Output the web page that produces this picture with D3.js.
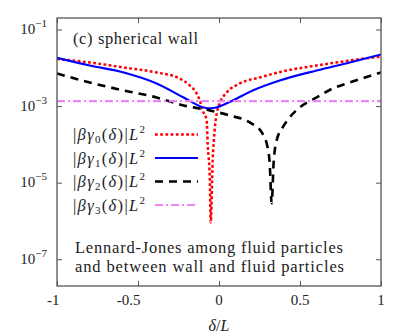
<!DOCTYPE html>
<html><head><meta charset="utf-8">
<script src="https://cdn.jsdelivr.net/npm/d3@7"></script>
<style>
body{margin:0;background:#fff}
svg{display:block}
</style>
</head><body><svg id="c" width="407" height="336"></svg>
<script>
// ---- data ----
const xTicks = [-1, -0.5, 0, 0.5, 1];
const xTickLabels = ["-1", "-0.5", "0", "0.5", "1"];
const yTicks = [1e-1, 1e-3, 1e-5, 1e-7];
const yTickExps = ["−1", "−3", "−5", "−7"];

const delta0 = [-1.0, -0.798, -0.588, -0.385, -0.243, -0.181, -0.138, -0.119, -0.101, -0.076, -0.070, -0.057, -0.051, -0.039, -0.027, -0.014, 0.004, 0.048, 0.128, 0.251, 0.418, 0.603, 0.807, 1.0];
const gamma0 = [1.70e-2, 1.38e-2, 1.02e-2, 7.55e-3, 5.27e-3, 3.46e-3, 2.14e-3, 1.41e-3, 7.7e-4, 4.2e-4, 1.06e-4, 1.38e-5, 9.2e-7, 3.8e-5, 2.32e-4, 6.4e-4, 1.17e-3, 2.27e-3, 3.90e-3, 5.6e-3, 8.5e-3, 1.15e-2, 1.55e-2, 1.98e-2];

const delta1 = [-1.0, -0.798, -0.588, -0.385, -0.218, -0.094, -0.057, -0.033, 0.085, 0.208, 0.375, 0.603, 0.807, 1.0];
const gamma1 = [1.83e-2, 1.15e-2, 7.55e-3, 3.90e-3, 1.68e-3, 9.2e-4, 8.7e-4, 8.9e-4, 1.41e-3, 2.56e-3, 4.67e-3, 8.5e-3, 1.38e-2, 2.23e-2];

const delta2 = [-1.0, -0.798, -0.588, -0.385, -0.218, -0.057, 0.066, 0.190, 0.264, 0.301, 0.313, 0.325, 0.338, 0.356, 0.393, 0.436, 0.498, 0.603, 0.702, 0.807, 1.0];
const gamma2 = [7.1e-3, 4.14e-3, 2.56e-3, 1.68e-3, 1.04e-3, 7.7e-4, 5.7e-4, 3.75e-4, 2.06e-4, 7.9e-5, 3.2e-5, 2.9e-6, 3.8e-5, 1.27e-4, 2.77e-4, 5.06e-4, 9.2e-4, 1.68e-3, 2.89e-3, 4.14e-3, 7.55e-3];

const delta3 = [-1.0, 1.0];
const gamma3 = [1.35e-3, 1.35e-3];

const seriesIdx = ["0", "1", "2", "3"];
const seriesColors = ["#ff0000", "#0000ff", "#000000", "#ee82ee"];
const seriesDash = ["2.8,2.4", null, "8,6", "8,3,2,3"];
const seriesWidth = [2.5, 2.2, 2.6, 2.2];

const title = "(c) spherical wall";
const note = ["Lennard-Jones among fluid particles", "and between wall and fluid particles"];

// ---- pick an installed serif face ----
function pickFont() {
  const c = document.createElement("canvas").getContext("2d");
  const s = "Lennard-Jones among fluid particles 0123";
  const cands = ["Liberation Serif", "DejaVu Serif", "Noto Serif", "Tinos", "Times New Roman", "Times", "FreeSerif", "Nimbus Roman", "C059", "Georgia"];
  for (const base of ["monospace", "sans-serif"]) {
    for (const f of cands) {
      c.font = `20px ${base}`; const w0 = c.measureText(s).width;
      c.font = `20px "${f}", ${base}`; const w1 = c.measureText(s).width;
      if (Math.abs(w1 - w0) > 0.5) return `"${f}", serif`;
    }
  }
  return "serif";
}
const FONT = pickFont();

// ---- chart ----
const svg = d3.select("#c");
const L = 57, R = 381, T = 18, B = 286;
const x = d3.scaleLinear().domain([-1, 1]).range([L, R]);
const y = d3.scaleLog().domain([2e-8, 0.2]).range([B, T]);
const axisCol = "#555";
const txt = (sel) => sel.append("text").style("font-family", FONT).attr("fill", "#222");

svg.append("defs").append("clipPath").attr("id", "clip")
  .append("rect").attr("x", L).attr("y", T).attr("width", R - L).attr("height", B - T);

const lines = [[delta0, gamma0], [delta1, gamma1], [delta2, gamma2], [delta3, gamma3]];
const gen = d3.line().x(d => x(d[0])).y(d => y(d[1])).curve(d3.curveMonotoneX);
const plot = svg.append("g").attr("clip-path", "url(#clip)");
lines.forEach((s, i) => {
  const pts = s[0].map((d, j) => [d, s[1][j]]);
  plot.append("path").attr("d", gen(pts)).attr("fill", "none")
    .attr("stroke", seriesColors[i]).attr("stroke-width", seriesWidth[i])
    .attr("stroke-dasharray", seriesDash[i]);
});

// axes (ticks inward on all four sides)
const tk = 5;
const styleAx = g => { g.select(".domain").remove(); g.selectAll("line").attr("stroke", axisCol); };
svg.append("g").attr("transform", `translate(0,${B})`)
  .call(d3.axisBottom(x).tickValues(xTicks).tickSize(-tk).tickFormat("")).call(styleAx);
svg.append("g").attr("transform", `translate(0,${T})`)
  .call(d3.axisTop(x).tickValues(xTicks).tickSize(-tk).tickFormat("")).call(styleAx);
svg.append("g").attr("transform", `translate(${L},0)`)
  .call(d3.axisLeft(y).tickValues(yTicks).tickSize(-tk).tickFormat("")).call(styleAx);
svg.append("g").attr("transform", `translate(${R},0)`)
  .call(d3.axisRight(y).tickValues(yTicks).tickSize(-tk).tickFormat("")).call(styleAx);
svg.append("rect").attr("x", L).attr("y", T).attr("width", R - L).attr("height", B - T)
  .attr("fill", "none").attr("stroke", axisCol).attr("stroke-width", 1.3);

// x tick labels
xTicks.forEach((v, i) => {
  const neg = xTickLabels[i].startsWith("-");
  txt(svg).attr("x", x(v) + (neg ? 2.5 : 0)).attr("y", 305)
    .attr("text-anchor", neg ? "end" : "middle").attr("font-size", 15).text(xTickLabels[i]);
});
// y tick labels
yTicks.forEach((v, i) => {
  const t = txt(svg).attr("x", 47).attr("y", y(v) + 4.5).attr("text-anchor", "end").attr("font-size", 15);
  t.append("tspan").text("10");
  t.append("tspan").attr("dy", -7).attr("font-size", 11).text(yTickExps[i]);
});
// x axis title
const xt = txt(svg).attr("x", x(0)).attr("y", 331).attr("text-anchor", "middle").attr("font-size", 16);
xt.append("tspan").attr("font-style", "italic").text("δ");
xt.append("tspan").text("/");
xt.append("tspan").attr("font-style", "italic").text("L");

// title
txt(svg).attr("x", 73).attr("y", 44).attr("font-size", 16.5)
  .attr("textLength", 125).attr("lengthAdjust", "spacing").text(title);

// legend
const rowY = [134.5, 158, 181.5, 205];
seriesIdx.forEach((s, i) => {
  const t = txt(svg).attr("x", 73).attr("y", rowY[i] + 5.5).attr("font-size", 16.5)
    .attr("textLength", 72).attr("lengthAdjust", "spacing");
  t.append("tspan").text("|");
  t.append("tspan").attr("font-style", "italic").text("βγ");
  t.append("tspan").attr("font-size", 11).attr("dy", 3).text(s);
  t.append("tspan").attr("dy", -3).text("(");
  t.append("tspan").attr("font-style", "italic").text("δ");
  t.append("tspan").text(")|");
  t.append("tspan").attr("font-style", "italic").text("L");
  t.append("tspan").attr("font-size", 11).attr("dy", -7).text("2");
  svg.append("line").attr("x1", 155).attr("x2", 198).attr("y1", rowY[i]).attr("y2", rowY[i])
    .attr("stroke", seriesColors[i]).attr("stroke-width", seriesWidth[i])
    .attr("stroke-dasharray", seriesDash[i]);
});

// note
note.forEach((s, i) => {
  txt(svg).attr("x", 75).attr("y", 253 + i * 19).attr("font-size", 16.5)
    .attr("textLength", i === 0 ? 268 : 269).attr("lengthAdjust", "spacing").text(s);
});
</script>
</body></html>
